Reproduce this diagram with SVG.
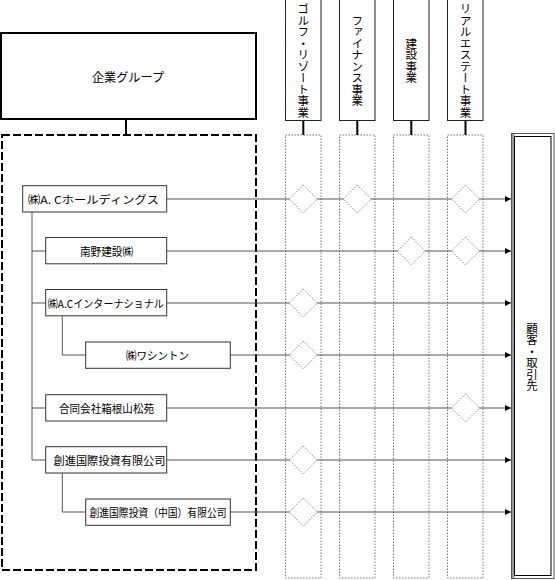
<svg xmlns="http://www.w3.org/2000/svg" width="555" height="580" viewBox="0 0 555 580">
<style>
text{font-family:"Noto Sans CJK JP","Liberation Sans",sans-serif;fill:#000}
.lbl{font-size:11px;text-anchor:middle;dominant-baseline:central}
.vt{font-size:11.5px;writing-mode:vertical-rl;text-anchor:middle}
.box{fill:#fff;stroke:#333;stroke-width:1}
.hdr{fill:#fff;stroke:#222;stroke-width:1}
.col{fill:none;stroke:#777;stroke-width:1;stroke-dasharray:1.5 1.5}
.dia{fill:#fff;stroke:#888;stroke-width:1;stroke-dasharray:1.5 1.5}
.ln{fill:none;stroke:#555;stroke-width:1}
.thick{fill:none;stroke:#000;stroke-width:2}
</style>
<defs>
<marker id="ah" viewBox="0 0 6 6" refX="6" refY="3" markerWidth="6" markerHeight="6" markerUnits="userSpaceOnUse" orient="auto">
<path d="M0,0 L6,3 L0,6 z" fill="#000"/>
</marker>
</defs>

<g id="group-top">
<rect x="1" y="33" width="255" height="86" fill="#fff" stroke="#000" stroke-width="2"/>
<text x="128" y="76" class="lbl" style="font-size:12px" textLength="72" lengthAdjust="spacingAndGlyphs">企業グループ</text>
</g>
<g id="group-frame">
<rect x="2" y="135" width="254" height="435" fill="none" stroke="#000" stroke-width="2" stroke-dasharray="8 3"/>
</g>

<g id="columns">
<rect class="col" x="285.5" y="135" width="35.5" height="443"/>
<rect class="col" x="339.5" y="135" width="35.5" height="443"/>
<rect class="col" x="393.5" y="135" width="35.5" height="443"/>
<rect class="col" x="447.5" y="135" width="35.5" height="443"/>
</g>

<g id="connectors">
<path class="thick" d="M126,119 V135"/>
<path class="thick" d="M303.3,120.5 V135 M357.3,120.5 V135 M411.3,120.5 V135 M465.5,120.5 V135"/>
<path class="ln" d="M32,212 V460 M32,251 H45.7 M32,303 H45.7 M32,408 H45.7 M32,460 H45.7"/>
<path class="ln" d="M62.3,316 V355 H85.7 M62.3,473 V512 H85.7"/>
<path class="ln" marker-end="url(#ah)" d="M166.7,199 H511"/>
<path class="ln" marker-end="url(#ah)" d="M166.7,251 H511"/>
<path class="ln" marker-end="url(#ah)" d="M166.7,303 H511"/>
<path class="ln" marker-end="url(#ah)" d="M230.3,355 H511"/>
<path class="ln" marker-end="url(#ah)" d="M166.7,408 H511"/>
<path class="ln" marker-end="url(#ah)" d="M166.7,460 H511"/>
<path class="ln" marker-end="url(#ah)" d="M230.3,512 H511"/>
</g>

<g id="diamonds">
<path class="dia" d="M303.3,185 l14,14 l-14,14 l-14,-14 z"/>
<path class="dia" d="M357.3,185 l14,14 l-14,14 l-14,-14 z"/>
<path class="dia" d="M465.5,185 l14,14 l-14,14 l-14,-14 z"/>
<path class="dia" d="M411.3,237 l14,14 l-14,14 l-14,-14 z"/>
<path class="dia" d="M465.5,237 l14,14 l-14,14 l-14,-14 z"/>
<path class="dia" d="M303.3,289 l14,14 l-14,14 l-14,-14 z"/>
<path class="dia" d="M303.3,341 l14,14 l-14,14 l-14,-14 z"/>
<path class="dia" d="M465.5,394 l14,14 l-14,14 l-14,-14 z"/>
<path class="dia" d="M303.3,446 l14,14 l-14,14 l-14,-14 z"/>
<path class="dia" d="M303.3,498 l14,14 l-14,14 l-14,-14 z"/>
</g>

<g id="header-golf">
<rect class="hdr" x="285.5" y="-1" width="35.5" height="121.5"/>
<text class="vt" x="303.3" y="60.5">ゴルフ・リゾート事業</text>
</g>
<g id="header-finance">
<rect class="hdr" x="339.5" y="-1" width="35.5" height="121.5"/>
<text class="vt" x="357.3" y="60.5">ファイナンス事業</text>
</g>
<g id="header-construction">
<rect class="hdr" x="393.5" y="-1" width="35.5" height="121.5"/>
<text class="vt" x="411.3" y="60.5">建設事業</text>
</g>
<g id="header-realestate">
<rect class="hdr" x="447.5" y="-1" width="35.5" height="121.5"/>
<text class="vt" x="465.5" y="60.5">リアルエステート事業</text>
</g>

<g id="customers">
<rect x="511.5" y="133.5" width="42.5" height="445" fill="#fff" stroke="#555" stroke-width="1"/>
<rect x="512" y="134" width="2.5" height="444" fill="#999"/>
<rect x="514.5" y="136.5" width="36.5" height="439" fill="none" stroke="#000" stroke-width="1"/>
<text class="vt" x="532" y="357" style="font-size:11.5px">顧客・取引先</text>
</g>

<g id="node-hd">
<rect class="box" x="22.7" y="185.7" width="144" height="26.3"/>
<text class="lbl" x="93.5" y="199" textLength="131" lengthAdjust="spacingAndGlyphs">㈱A. Cホールディングス</text>
</g>
<g id="node-minamino">
<rect class="box" x="45.7" y="237.5" width="121" height="26.3"/>
<text class="lbl" x="106.5" y="251" textLength="53" lengthAdjust="spacingAndGlyphs">南野建設㈱</text>
</g>
<g id="node-aci">
<rect class="box" x="45.7" y="289.5" width="121" height="26.3"/>
<text class="lbl" x="105.8" y="303" textLength="116" lengthAdjust="spacingAndGlyphs">㈱A.Cインターナショナル</text>
</g>
<g id="node-washington">
<rect class="box" x="85.7" y="342" width="144.6" height="26.3"/>
<text class="lbl" x="157.6" y="355" textLength="63" lengthAdjust="spacingAndGlyphs">㈱ワシントン</text>
</g>
<g id="node-hakone">
<rect class="box" x="45.7" y="394.7" width="121" height="26.3"/>
<text class="lbl" x="106.5" y="408" textLength="95" lengthAdjust="spacingAndGlyphs">合同会社箱根山松苑</text>
</g>
<g id="node-soshin">
<rect class="box" x="45.7" y="446.7" width="121" height="26.3"/>
<text class="lbl" x="109.5" y="460" textLength="112" lengthAdjust="spacingAndGlyphs">創進国際投資有限公司</text>
</g>
<g id="node-soshin-cn">
<rect class="box" x="85.7" y="499" width="144.6" height="26.3"/>
<text class="lbl" x="158" y="512" textLength="137" lengthAdjust="spacingAndGlyphs">創進国際投資（中国）有限公司</text>
</g>
</svg>
